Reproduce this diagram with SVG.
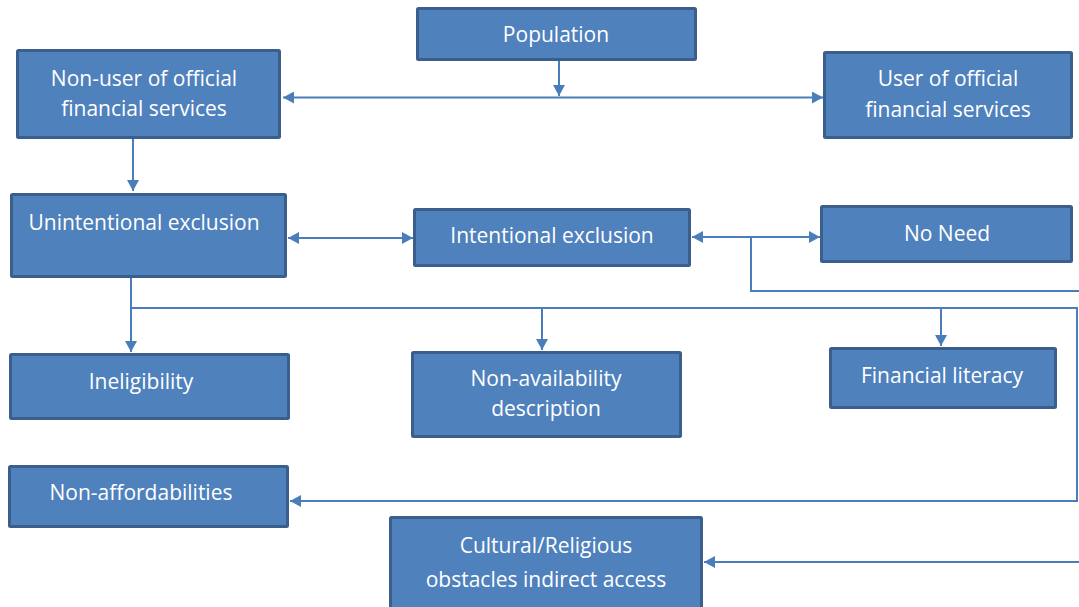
<svg xmlns="http://www.w3.org/2000/svg" width="1079" height="607" viewBox="0 0 1079 607">
<style>
.box{fill:#4F81BD;stroke:#3A5F8D;stroke-width:3}
.t{font-family:"Open Sans","Liberation Sans",sans-serif;font-size:21px;fill:#FFFFFF;text-anchor:middle}
.c{fill:none;stroke:#4A7EBB;stroke-width:2}
</style>
<defs>
<marker id="ah" markerUnits="userSpaceOnUse" markerWidth="12" markerHeight="12" refX="11" refY="6" orient="auto-start-reverse">
<path d="M0,0 L11,6 L0,12 Z" fill="#4A7EBB"/>
</marker>
</defs>
<rect width="1079" height="607" fill="#FFFFFF"/>
<g id="connectors">
<path class="c" d="M559,61 L559,96" marker-end="url(#ah)"/>
<path class="c" d="M283,97.5 L823,97.5" marker-start="url(#ah)" marker-end="url(#ah)"/>
<path class="c" d="M133,139 L133,191" marker-end="url(#ah)"/>
<path class="c" d="M288,238 L413,238" marker-start="url(#ah)" marker-end="url(#ah)"/>
<path class="c" d="M692,237 L820,237" marker-start="url(#ah)" marker-end="url(#ah)"/>
<path class="c" d="M751,237 L751,291 L1080,291"/>
<path class="c" d="M131,278 L131,352" marker-end="url(#ah)"/>
<path class="c" d="M131,308 L1077,308 L1077,501 L290,501" marker-end="url(#ah)"/>
<path class="c" d="M542,308 L542,350" marker-end="url(#ah)"/>
<path class="c" d="M941,308 L941,346" marker-end="url(#ah)"/>
<path class="c" d="M1080,562 L704,562" marker-end="url(#ah)"/>
</g>
<g id="population">
<rect class="box" x="417.5" y="8.5" width="278" height="51" rx="1"/>
<text class="t" x="556" y="42">Population</text>
</g>
<g id="non-user">
<rect class="box" x="17.5" y="50.5" width="262" height="87" rx="1"/>
<text class="t" x="144" y="86">Non-user of official</text>
<text class="t" x="144" y="116">financial services</text>
</g>
<g id="user">
<rect class="box" x="824.5" y="52.5" width="247" height="85" rx="1"/>
<text class="t" x="948" y="86">User of official</text>
<text class="t" x="948" y="117">financial services</text>
</g>
<g id="unintentional">
<rect class="box" x="11.5" y="194.5" width="274" height="82" rx="1"/>
<text class="t" x="144" y="230">Unintentional exclusion</text>
</g>
<g id="intentional">
<rect class="box" x="414.5" y="209.5" width="275" height="56" rx="1"/>
<text class="t" x="552" y="243">Intentional exclusion</text>
</g>
<g id="no-need">
<rect class="box" x="821.5" y="206.5" width="250" height="55" rx="1"/>
<text class="t" x="947" y="241">No Need</text>
</g>
<g id="ineligibility">
<rect class="box" x="10.5" y="354.5" width="278" height="64" rx="1"/>
<text class="t" x="141" y="389">Ineligibility</text>
</g>
<g id="non-availability">
<rect class="box" x="412.5" y="352.5" width="268" height="84" rx="1"/>
<text class="t" x="546" y="386">Non-availability</text>
<text class="t" x="546" y="416">description</text>
</g>
<g id="financial-literacy">
<rect class="box" x="830.5" y="348.5" width="225" height="59" rx="1"/>
<text class="t" x="942" y="383">Financial literacy</text>
</g>
<g id="non-affordabilities">
<rect class="box" x="9.5" y="466.5" width="278" height="60" rx="1"/>
<text class="t" x="141" y="500">Non-affordabilities</text>
</g>
<g id="cultural">
<rect class="box" x="390.5" y="517.5" width="311" height="100" rx="1"/>
<text class="t" x="546" y="553">Cultural/Religious</text>
<text class="t" x="546" y="587">obstacles indirect access</text>
</g>
</svg>
